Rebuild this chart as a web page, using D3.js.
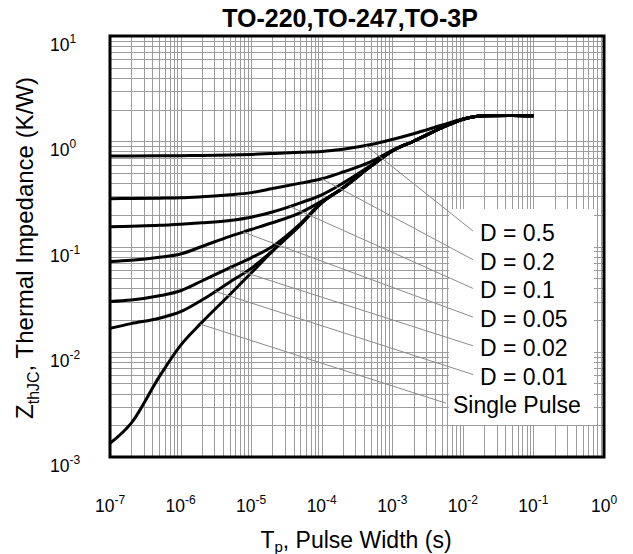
<!DOCTYPE html>
<html>
<head>
<meta charset="utf-8">
<script src="https://cdn.jsdelivr.net/npm/d3@7"></script>
<style>
body { margin: 0; background: #fff; }
svg { font-family: "Liberation Sans", Arial, sans-serif; }
</style>
</head>
<body>
<div class="container"></div>
<script>
// pulse width grid (s) shared by all curves
var pulseWidth = [1e-7, 2e-7, 5e-7, 1e-6, 2e-6, 5e-6, 1e-5, 2e-5, 5e-5, 1e-4, 2e-4, 5e-4, 1e-3, 2e-3, 5e-3, 1e-2, 2e-2, 5e-2, 1e-1];

// Zth(jc) in K/W
var zD50 = [0.725, 0.725, 0.727, 0.73, 0.733, 0.74, 0.75, 0.765, 0.785, 0.80, 0.84, 0.93, 1.04, 1.18, 1.42, 1.63, 1.75, 1.76, 1.75];
var zD20 = [0.285, 0.286, 0.288, 0.29, 0.297, 0.31, 0.325, 0.355, 0.40, 0.44, 0.51, 0.64, 0.82, 1.0, 1.34, 1.62, 1.75, 1.76, 1.75];
var zD10 = [0.154, 0.156, 0.159, 0.163, 0.168, 0.177, 0.19, 0.213, 0.26, 0.31, 0.40, 0.59, 0.81, 1.0, 1.34, 1.62, 1.75, 1.76, 1.75];
var zD05 = [0.072, 0.074, 0.079, 0.085, 0.10, 0.125, 0.145, 0.168, 0.21, 0.27, 0.36, 0.58, 0.81, 1.0, 1.34, 1.62, 1.75, 1.76, 1.75];
var zD02 = [0.030, 0.031, 0.034, 0.038, 0.047, 0.063, 0.078, 0.10, 0.165, 0.262, 0.36, 0.58, 0.81, 1.0, 1.34, 1.62, 1.75, 1.76, 1.75];
var zD01 = [0.0167, 0.0185, 0.0208, 0.024, 0.031, 0.046, 0.062, 0.091, 0.162, 0.26, 0.36, 0.58, 0.81, 1.0, 1.34, 1.62, 1.75, 1.76, 1.75];
var zSingle = [0.00135, 0.0021, 0.0058, 0.0115, 0.019, 0.035, 0.056, 0.09, 0.16, 0.26, 0.36, 0.58, 0.81, 1.0, 1.34, 1.62, 1.75, 1.76, 1.75];

var seriesNames = ['D = 0.5', 'D = 0.2', 'D = 0.1', 'D = 0.05', 'D = 0.02', 'D = 0.01', 'Single Pulse'];
var seriesValues = [zD50, zD20, zD10, zD05, zD02, zD01, zSingle];
// pulse width where each label's pointer line touches its curve
var pointerAt = [4.2e-4, 1e-4, 3.5e-5, 7.7e-6, 5e-6, 3.1e-6, 1.9e-6];

var xDecades = [1e-7, 1e-6, 1e-5, 1e-4, 1e-3, 1e-2, 1e-1, 1];
var yDecades = [1e-3, 1e-2, 1e-1, 1, 10];

var WIDTH = 633,
	HEIGHT = 554,
	LEFT = 110,
	RIGHT = 604,
	TOP = 36,
	BOTTOM = 457;

var svg = d3.select('.container').append('svg')
	.attr('width', WIDTH)
	.attr('height', HEIGHT);

var xScale = d3.scaleLog().domain([1e-7, 1]).range([LEFT, RIGHT]);
var yScale = d3.scaleLog().domain([1e-3, 10]).range([BOTTOM, TOP]);

function crisp(v) { return Math.round(v) + 0.5; }

// grid
var grid = svg.append('g').attr('stroke', '#9c9c9c').attr('stroke-width', 1);
grid.selectAll('line.vx')
	.data(xScale.ticks())
	.enter().append('line')
	.attr('x1', function(d) { return crisp(xScale(d)); })
	.attr('x2', function(d) { return crisp(xScale(d)); })
	.attr('y1', TOP)
	.attr('y2', BOTTOM);
grid.selectAll('line.hy')
	.data(yScale.ticks())
	.enter().append('line')
	.attr('y1', function(d) { return crisp(yScale(d)); })
	.attr('y2', function(d) { return crisp(yScale(d)); })
	.attr('x1', LEFT)
	.attr('x2', RIGHT);

// white box behind the labels
svg.append('rect')
	.attr('x', 449).attr('y', 209)
	.attr('width', 145).attr('height', 216)
	.attr('fill', '#fff');

// curves
var line = d3.line()
	.curve(d3.curveMonotoneX)
	.x(function(d) { return xScale(d[0]); })
	.y(function(d) { return yScale(d[1]); });

svg.append('g').selectAll('path')
	.data(seriesValues)
	.enter().append('path')
	.attr('d', function(vals) { return line(d3.zip(pulseWidth, vals)); })
	.attr('fill', 'none')
	.attr('stroke', '#000')
	.attr('stroke-width', 3)
	.attr('stroke-linejoin', 'round');

// value of a curve at pulse width t, interpolated in log-log space
function curveAt(vals, t) {
	var lt = Math.log10(t);
	for (var i = 1; i < pulseWidth.length; i++) {
		var a = Math.log10(pulseWidth[i - 1]), b = Math.log10(pulseWidth[i]);
		if (lt <= b) {
			var f = (lt - a) / (b - a);
			return Math.pow(10, Math.log10(vals[i - 1]) + f * (Math.log10(vals[i]) - Math.log10(vals[i - 1])));
		}
	}
	return vals[vals.length - 1];
}

// labels and pointer lines
var LABEL_X = 480, LABEL_Y = 241, LABEL_STEP = 28.7;
var labels = svg.append('g');
seriesNames.forEach(function(name, i) {
	var tx = (i === seriesNames.length - 1) ? 453 : LABEL_X;
	var ty = LABEL_Y + i * LABEL_STEP;
	var t = pointerAt[i];
	labels.append('line')
		.attr('x1', xScale(t))
		.attr('y1', yScale(curveAt(seriesValues[i], t)))
		.attr('x2', tx - 7)
		.attr('y2', ty - 10)
		.attr('stroke', '#8a8a8a')
		.attr('stroke-width', 1);
	labels.append('text')
		.attr('x', tx)
		.attr('y', ty)
		.attr('font-size', 23)
		.attr('fill', '#000')
		.text(name);
});

// frame
svg.append('rect')
	.attr('x', LEFT).attr('y', TOP)
	.attr('width', RIGHT - LEFT).attr('height', BOTTOM - TOP)
	.attr('fill', 'none')
	.attr('stroke', '#000')
	.attr('stroke-width', 3);

// tick labels
function powerLabel(sel, d) {
	var e = Math.round(Math.log10(d));
	sel.append('tspan').text('10');
	sel.append('tspan').attr('dy', -8).attr('font-size', 12).text(e);
}

svg.append('g').selectAll('text')
	.data(xDecades)
	.enter().append('text')
	.attr('x', function(d) { return xScale(d); })
	.attr('y', 512)
	.attr('text-anchor', 'middle')
	.attr('font-size', 17.5)
	.each(function(d) { powerLabel(d3.select(this), d); });

svg.append('g').selectAll('text')
	.data(yDecades)
	.enter().append('text')
	.attr('x', 50)
	.attr('y', function(d) { return yScale(d) + 15; })
	.attr('font-size', 17.5)
	.each(function(d) { powerLabel(d3.select(this), d); });

// titles
svg.append('text')
	.attr('x', 350).attr('y', 27)
	.attr('text-anchor', 'middle')
	.attr('font-size', 25)
	.attr('font-weight', 'bold')
	.text('TO-220,TO-247,TO-3P');

var xt = svg.append('text')
	.attr('x', 356).attr('y', 548)
	.attr('text-anchor', 'middle')
	.attr('font-size', 23);
xt.append('tspan').text('T');
xt.append('tspan').attr('dy', 4).attr('font-size', 15).text('p');
xt.append('tspan').attr('dy', -4).text(', Pulse Width (s)');

var yt = svg.append('text')
	.attr('transform', 'translate(33,248) rotate(-90)')
	.attr('text-anchor', 'middle')
	.attr('font-size', 24);
yt.append('tspan').text('Z');
yt.append('tspan').attr('dy', 6).attr('font-size', 16).text('thJC');
yt.append('tspan').attr('dy', -6).text(',  Thermal Impedance (K/W)');
</script>
</body>
</html>
